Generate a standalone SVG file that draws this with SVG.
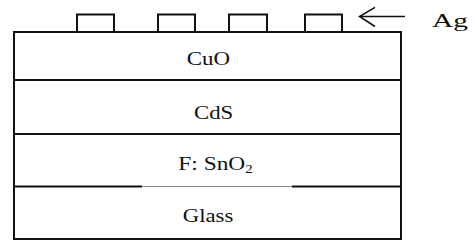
<svg xmlns="http://www.w3.org/2000/svg" width="475" height="250" viewBox="0 0 475 250">
<style>
.ln{stroke:#111;stroke-width:2;fill:none}
.t{font-family:"Liberation Serif","Times New Roman",serif;font-size:19.5px;fill:#111}
</style>
<rect width="475" height="250" fill="#fff"/>
<g id="layers">
<rect class="ln" x="14" y="32" width="387" height="207"/>
<line class="ln" x1="14" y1="80" x2="401" y2="80"/>
<line class="ln" x1="14" y1="134" x2="401" y2="134"/>
<line class="ln" x1="14" y1="186.5" x2="142" y2="186.5"/>
<line x1="142" y1="186.5" x2="292" y2="186.5" stroke="#888" stroke-width="1.2"/>
<line class="ln" x1="292" y1="186.5" x2="401" y2="186.5"/>
</g>
<g id="cuo"><text class="t" x="186.7" y="65.3" textLength="43.3" lengthAdjust="spacingAndGlyphs">CuO</text></g>
<g id="cds"><text class="t" x="194" y="119.3" textLength="39.3" lengthAdjust="spacingAndGlyphs">CdS</text></g>
<g id="fto"><text class="t" x="178.3" y="170" textLength="74.4" lengthAdjust="spacingAndGlyphs">F: SnO<tspan font-size="12.5" dy="3">2</tspan></text></g>
<g id="glass"><text class="t" x="182.7" y="221.5" textLength="50.6" lengthAdjust="spacingAndGlyphs">Glass</text></g>
<g id="ag-contacts">
<polyline class="ln" points="77,32 77,14.5 114,14.5 114,32"/>
<polyline class="ln" points="158,32 158,14.5 195,14.5 195,32"/>
<polyline class="ln" points="229,32 229,14.5 267,14.5 267,32"/>
<polyline class="ln" points="305,32 305,14.5 342,14.5 342,32"/>
</g>
<g id="connectors">
<line x1="359.5" y1="16.5" x2="405" y2="16.5" stroke="#111" stroke-width="1.5"/>
<polyline points="375,7.3 359.5,16.5 375,26.5" fill="none" stroke="#111" stroke-width="1.5"/>
</g>
<g id="ag-label"><text class="t" x="432" y="27.3" textLength="36" lengthAdjust="spacingAndGlyphs" style="font-size:19px">Ag</text></g>
</svg>
